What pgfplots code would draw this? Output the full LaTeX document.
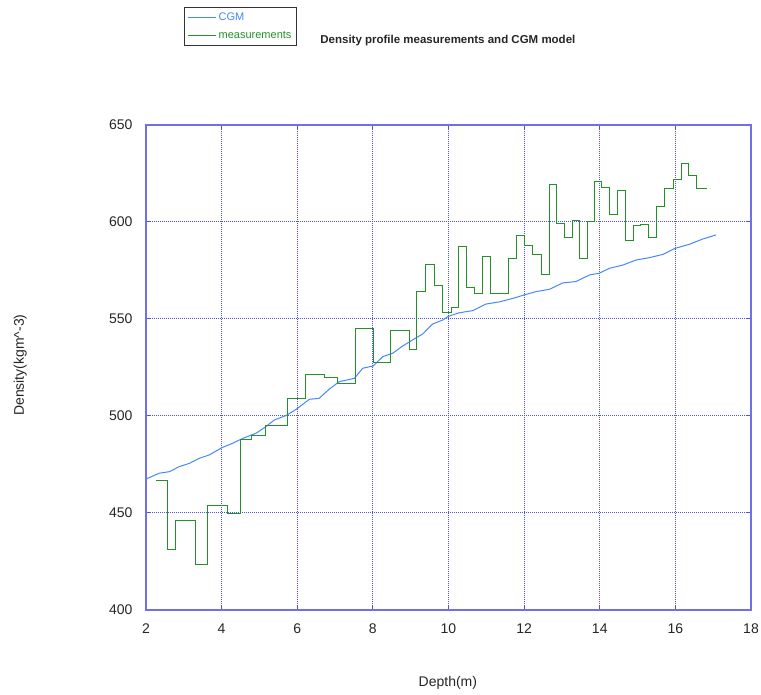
\documentclass[border=0pt]{standalone}
\usepackage{pgfplots}
\pgfplotsset{compat=1.18}
\usepackage{fontspec}
\setmainfont{Liberation Sans}

\definecolor{framecol}{RGB}{112,112,235}
\definecolor{gridcol}{RGB}{80,80,225}
\definecolor{cgmblue}{RGB}{70,135,250}
\definecolor{measgreen}{RGB}{35,145,40}

\begin{document}
\begin{tikzpicture}[x=1pt,y=1pt]
\useasboundingbox (0,0) rectangle (761,695);
\begin{axis}[
  at={(146pt,85pt)}, anchor=south west,
  scale only axis, width=605pt, height=485pt,
  xmin=2, xmax=18, ymin=400, ymax=650,
  xtick={2,4,...,18}, ytick={400,450,...,650},
  grid=major,
  major grid style={gridcol, dash pattern=on 1pt off 1pt, line width=1pt},
  axis line style={framecol, line width=1.2pt},
  tick style={gridcol, line width=1pt},
  major tick length=4pt,
  tick align=inside,
  /pgf/number format/assume math mode=true,
  tick label style={font=\fontsize{14}{16}\selectfont, black!85},
  yticklabel style={xshift=-10pt},
  xticklabel style={yshift=-10pt},
  title={Density profile measurements and CGM model},
  title style={at={(axis description cs:0.499,1.161)}, anchor=center,
    font=\fontsize{11.5}{13}\selectfont\bfseries, black!85},
  xlabel={Depth(m)},
  xlabel style={at={(axis description cs:0.499,-0.150)}, anchor=center,
    font=\fontsize{14}{16}\selectfont, black!85},
  ylabel={Density(kgm\^{}-3)},
  ylabel style={at={(axis description cs:-0.208,0.505)}, anchor=center, rotate=0,
    font=\fontsize{14}{16}\selectfont, black!85},
  legend style={at={(axis description cs:0.0633,1.244)}, anchor=north west,
    draw=black!80, line width=1pt, inner xsep=3pt, inner ysep=4pt, row sep=5pt,
    font=\fontsize{11}{13}\selectfont},
  legend cell align=left,
  legend image code/.code={\draw[#1, line width=0.9pt] (0pt,0pt) -- (28pt,0pt);},
]
% CGM model profile
\addplot[cgmblue, line width=1pt] coordinates {
(2.00,467.5) (2.35,470.5) (2.62,471.3) (2.88,473.9) (3.15,475.6) (3.41,478.2)
(3.67,479.9) (4.03,483.9) (4.29,485.9) (4.56,488.5) (4.91,491.1) (5.17,494.5)
(5.39,497.9) (5.70,500.2) (5.97,503.4) (6.32,508.6) (6.58,509.1) (6.85,513.9)
(7.11,517.7) (7.51,519.4) (7.73,524.6) (8.01,525.8) (8.26,530.6) (8.52,532.3)
(8.79,536.1) (9.05,539.2) (9.32,542.3) (9.58,547.4) (9.85,549.5) (10.00,551.4)
(10.28,553.2) (10.64,554.3) (10.99,557.7) (11.34,558.8) (11.70,560.6) (12.00,562.4)
(12.31,564.1) (12.67,565.3) (13.02,568.6) (13.37,569.3) (13.73,572.7) (13.99,573.6)
(14.25,576.1) (14.61,577.8) (14.96,580.4) (15.31,581.6) (15.67,583.3) (15.99,586.4)
(16.37,588.5) (16.72,591.2) (17.07,593.3)
};
\addlegendentry{\textcolor{cgmblue}{CGM}}
% measured density, piecewise constant over each sample interval
\addplot[measgreen, line width=1pt, const plot] coordinates {
(2.26,467.0) (2.56,431.3) (2.79,446.2) (3.30,423.2) (3.63,454.0) (4.15,449.5)
(4.49,488.1) (4.80,490.0) (5.17,495.2) (5.74,509.1) (6.23,521.3) (6.73,520.0)
(7.07,516.9) (7.55,545.2) (8.01,527.5) (8.46,544.2) (8.96,534.4) (9.16,564.3)
(9.40,578.2) (9.63,567.5) (9.84,553.1) (10.07,556.0) (10.27,587.3) (10.48,566.2)
(10.69,562.9) (10.90,582.0) (11.10,562.9) (11.59,581.3) (11.80,593.2) (12.02,588.1)
(12.22,583.4) (12.46,572.7) (12.66,619.1) (12.86,599.0) (13.07,592.1) (13.27,601.0)
(13.46,581.3) (13.67,600.5) (13.85,620.8) (14.05,617.9) (14.27,604.0) (14.47,616.2)
(14.68,590.4) (14.88,598.0) (15.07,598.6) (15.28,592.1) (15.50,607.9) (15.72,617.2)
(15.94,622.0) (16.16,630.2) (16.36,624.0) (16.57,617.2) (16.84,617.2)
};
\addlegendentry{\textcolor{measgreen}{measurements}}
\end{axis}
\end{tikzpicture}
\end{document}
